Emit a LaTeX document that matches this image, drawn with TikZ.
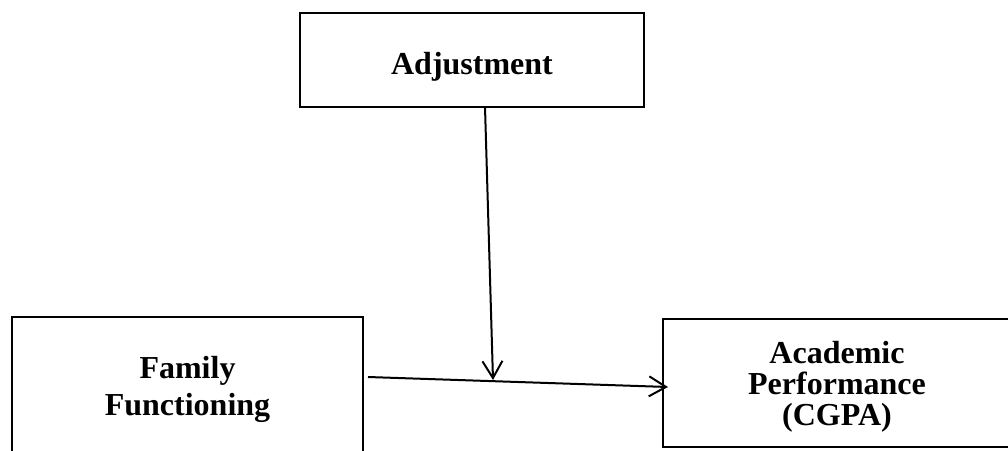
\documentclass[tikz,border=0pt]{standalone}
\usepackage{fontspec}
\setmainfont{Liberation Serif}
\usetikzlibrary{arrows.meta}
\begin{document}
\begin{tikzpicture}[x=1pt,y=-1pt,
  box/.style={draw=black,line width=2pt,inner sep=0pt},
  label text/.style={inner sep=0pt,align=center,
    font=\fontsize{32}{37}\selectfont\bfseries},
  link/.style={line width=2pt,-{Straight Barb[length=17pt,width=20pt,line width=2pt]}}]
\useasboundingbox (0,0) rectangle (1008,450);
\clip (0,0) rectangle (1008,450);
% moderator
\node[box,minimum width=344pt,minimum height=94pt] (adj) at (472,60) {};
\node[label text] (adjtext) at (472,66.5) {Adjustment};
% predictor (box runs past the lower edge)
\node[box,minimum width=351pt,minimum height=148pt] (fam) at (187.5,391) {};
\node[label text] (famtext) at (187.5,389) {Family\\Functioning};
% outcome (box runs past the right edge)
\node[box,minimum width=348pt,minimum height=128pt] (perf) at (837,383) {};
\node[label text,font=\fontsize{32}{31}\selectfont\bfseries] (perftext)
  at (837,386.5) {Academic\\Performance\\(CGPA)};
% connector end points
\coordinate (vtop) at (485,107);
\coordinate (vtip) at (493,380);
\coordinate (hstart) at (368,377);
\coordinate (htip) at (668,387);
\draw[link] (vtop) -- (vtip);
\draw[link] (hstart) -- (htip);
\end{tikzpicture}
\end{document}
